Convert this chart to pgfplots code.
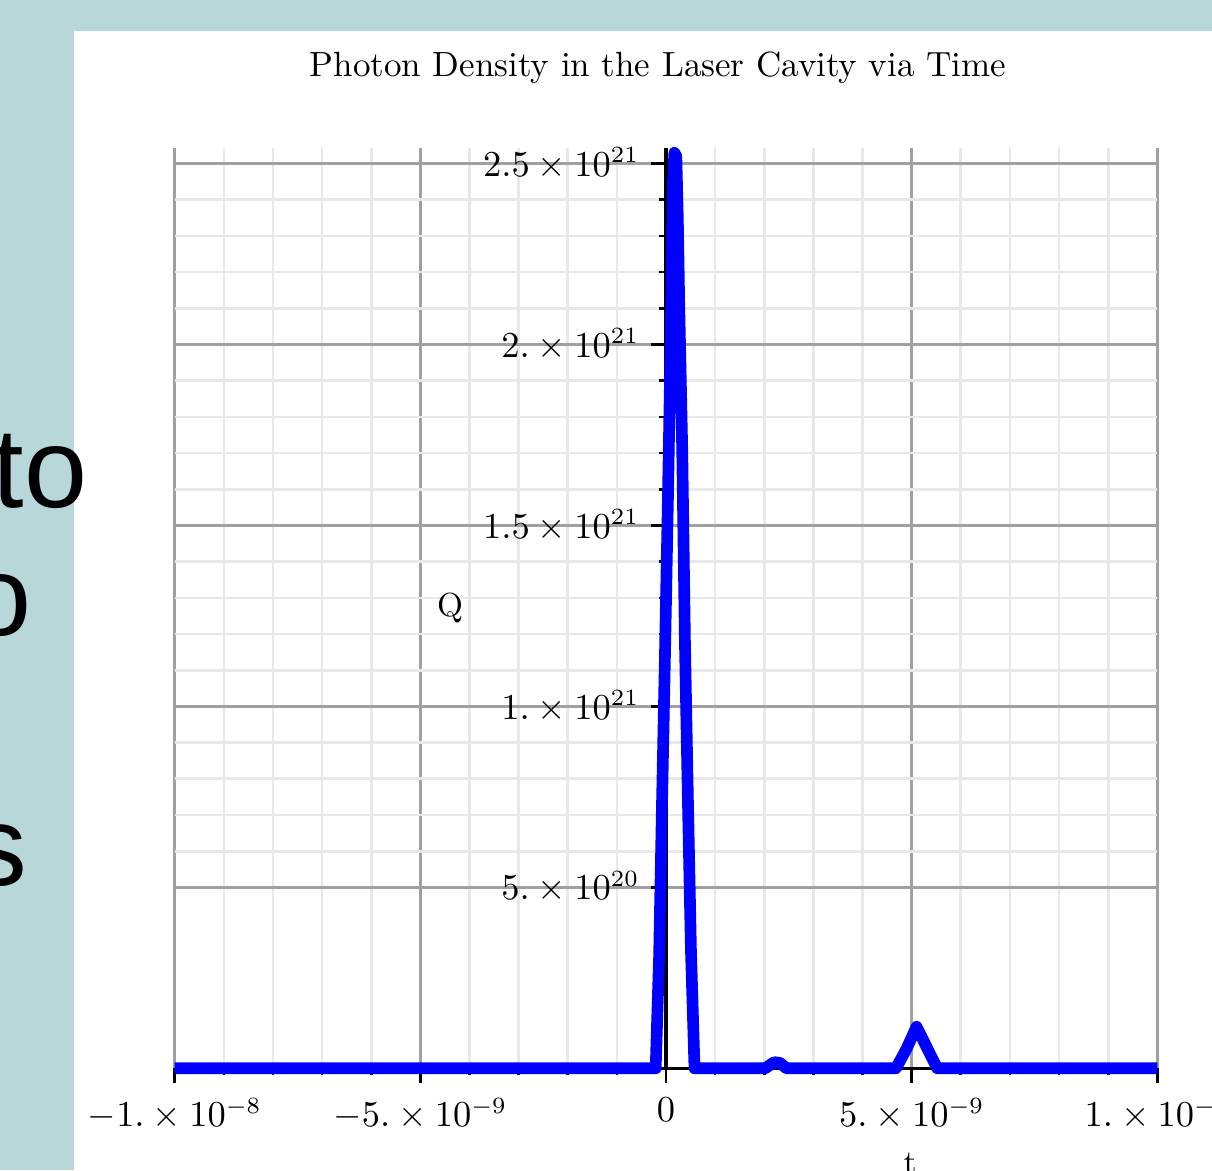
\documentclass[border=0pt]{standalone}
\usepackage{fontspec}
\usepackage{pgfplots}
\pgfplotsset{compat=1.18}
\newfontfamily\slidefont{Liberation Sans}
\definecolor{slidebg}{HTML}{B7D7D8}
\definecolor{majorgrid}{HTML}{A0A0A0}
\definecolor{minorgrid}{HTML}{E8E8E8}
% grid under the curve, axis lines and ticks over it
\pgfplotsset{layers/curveunder/.define layer set={axis background,axis grid,pre main,main,axis ticks,axis lines,axis tick labels,axis descriptions,axis foreground}{}}

\begin{document}
\begin{tikzpicture}
\fill[slidebg] (0,0) rectangle (363.6pt,351pt);
\fill[white] (22.2pt,0) rectangle (363.6pt,341.7pt);
\begin{pgfinterruptboundingbox}

% slide text peeking in from the left
\node[anchor=base east, inner sep=0, font=\slidefont\fontsize{34}{40}\selectfont] at (26.4pt,198.6pt) {to};
\node[anchor=base east, inner sep=0, font=\slidefont\fontsize{34}{40}\selectfont] at (9.6pt,160.5pt) {o};
\node[anchor=base east, inner sep=0, font=\slidefont\fontsize{34}{40}\selectfont] at (8.5pt,85.5pt) {s};

\begin{axis}[
    set layers=curveunder,
    at={(52.41pt,30.51pt)}, anchor=south west,
    scale only axis,
    width=294.78pt, height=276.09pt,
    xmin=-10, xmax=10,
    ymin=0, ymax=25.43,
    axis lines=middle,
    axis line style={-, line width=1pt, black},
    clip=false,
    hide obscured x ticks=false,
    xtick={-10,-5,0,5,10},
    xticklabels={$-1.\times10^{-8}$, $-5.\times10^{-9}$, $0$, $5.\times10^{-9}$, $1.\times10^{-8}$},
    ytick={5,10,15,20,25},
    yticklabels={$5.\times10^{20}$, $1.\times10^{21}$, $1.5\times10^{21}$, $2.\times10^{21}$, $2.5\times10^{21}$},
    minor x tick num=4,
    minor y tick num=4,
    grid=both,
    major grid style={majorgrid, line width=0.8pt},
    minor grid style={minorgrid, line width=0.8pt},
    tick align=outside,
    major tick length=4.5pt,
    minor tick length=2.1pt,
    every tick/.style={black, line width=0.8pt},
    tick label style={font=\fontsize{10.5}{12}\selectfont},
    xticklabel style={yshift=-1pt},
]
% t in ns, Q in 1e20
\addplot[blue, line width=3.5pt, line join=round] coordinates {
    (-10,0) (-0.21,0) (-0.14,3.1) (-0.08,7.4) (-0.02,11.5) (0.04,15.8)
    (0.10,20.5) (0.14,24.4) (0.17,25.3) (0.21,25.2) (0.24,23.5) (0.27,21.0)
    (0.33,17.1) (0.385,11.8) (0.446,7.4) (0.507,3.3) (0.58,0)
    (2.02,0) (2.2,0.17) (2.32,0.15) (2.45,0)
    (4.68,0) (4.9,0.55) (5.1,1.15) (5.3,0.6) (5.52,0) (10,0)
};
\end{axis}

\node[font=\fontsize{10.5}{12}\selectfont] at (197.4pt,330.6pt) {Photon Density in the Laser Cavity via Time};
\node at (135pt,168.6pt) {Q};
\node[anchor=base] at (273pt,-0.9pt) {t};
\end{pgfinterruptboundingbox}
\end{tikzpicture}
\end{document}
